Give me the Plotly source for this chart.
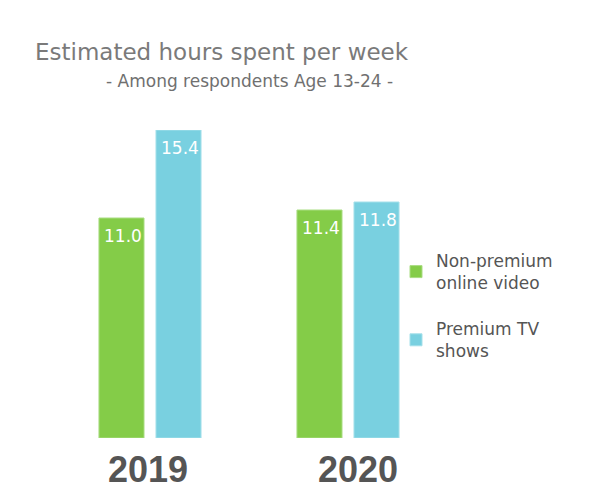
import plotly.graph_objects as go

years = ["2019", "2020"]
non_premium = [11.0, 11.4]
premium_tv = [15.4, 11.8]
series_names = ["Non-premium<br>online video", "Premium TV<br>shows"]

green = "#84cc48"
blue = "#79d0e0"

# plot area in figure pixels
L, R, T, B = 43, 151, 122, 70
W, H = 590, 500
pw, ph = W - L - R, H - T - B


def px(x):
    return (x - L) / pw


def py(y):
    return (H - B - y) / ph


fig = go.Figure()
fig.add_trace(go.Bar(x=years, y=non_premium, name=series_names[0], legendgroup="a",
                     marker=dict(color=green, line=dict(color="#a9dd82", width=1))))
fig.add_trace(go.Bar(x=years, y=premium_tv, name=series_names[1], legendgroup="b",
                     marker=dict(color=blue, line=dict(color="#a5e0ea", width=1))))

# value labels near the top inside each bar
offsets = [-28.5, 28.5]
for vals, dx in zip([non_premium, premium_tv], offsets):
    for i, v in enumerate(vals):
        fig.add_annotation(x=i, y=v, text=f"{v:.1f}", showarrow=False,
                           xshift=dx + 1, yshift=-18, yanchor="middle",
                           font=dict(color="white", size=17, family="DejaVu Sans"))

# year labels under the groups (slightly off-centre like the original)
label_shift = [-2, 10]
for i, yr in enumerate(years):
    fig.add_annotation(x=i, y=0, text=f"<b>{yr}</b>", showarrow=False,
                       xshift=label_shift[i], yshift=-31, yanchor="middle",
                       font=dict(size=36, family="Liberation Sans", color="#555555"))

fig.update_layout(
    width=W, height=H,
    margin=dict(l=L, r=R, t=T, b=B),
    paper_bgcolor="white", plot_bgcolor="white",
    barmode="group", bargap=0.424, bargroupgap=0.21,
    font=dict(family="DejaVu Sans", color="#555555"),
    showlegend=True,
    legend=dict(x=px(388), y=py(235), xanchor="left", yanchor="top",
                font=dict(size=17, color="#555555"),
                tracegroupgap=21, itemwidth=30, bgcolor="rgba(0,0,0,0)"),
    xaxis=dict(type="category", range=[-0.5, 1.5], showgrid=False, showline=False,
               zeroline=False, ticks="", showticklabels=False),
    yaxis=dict(range=[0, 15.4], visible=False),
)

fig.add_annotation(text="Estimated hours spent per week", x=px(25), y=py(44),
                   xref="paper", yref="paper", xanchor="left", yanchor="middle",
                   showarrow=False, font=dict(size=23, color="#7a7a7a"))
fig.add_annotation(text="- Among respondents Age 13-24 -", x=px(242), y=py(73),
                   xref="paper", yref="paper", xanchor="center", yanchor="middle",
                   showarrow=False, font=dict(size=17, color="#707070"))

fig.write_html("out.html")
